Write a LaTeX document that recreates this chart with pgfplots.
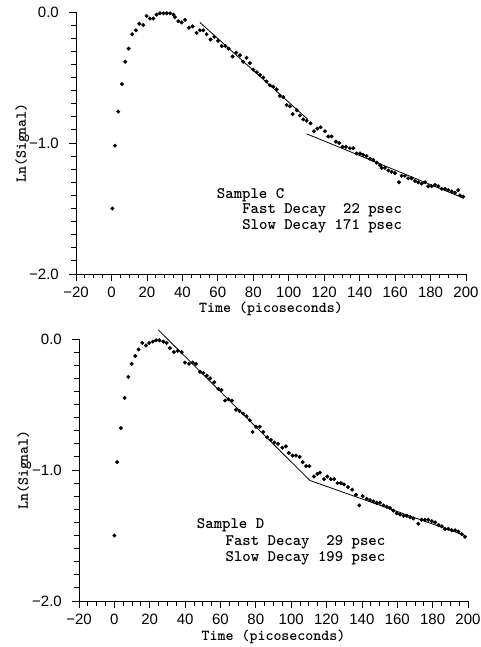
\documentclass[border=0pt]{standalone}
\usepackage{fontspec}
\usepackage{pgfplots}
\pgfplotsset{compat=1.18}
\newfontfamily\ticksf{Liberation Sans}

\pgfplotstableread{
x y
0.5 -1.50
2.0 -1.02
3.8 -0.76
5.9 -0.55
7.8 -0.38
9.7 -0.28
11.7 -0.17
13.8 -0.14
15.7 -0.09
17.9 -0.10
19.8 -0.03
21.7 -0.05
23.6 -0.05
25.5 -0.02
27.4 -0.01
29.3 -0.01
31.2 -0.01
33.1 -0.01
35.0 -0.02
35.8 -0.04
37.7 -0.07
39.6 -0.08
41.5 -0.06
43.7 -0.12
45.8 -0.11
48.0 -0.16
49.9 -0.14
51.8 -0.14
53.7 -0.17
55.9 -0.21
58.0 -0.19
60.1 -0.22
62.2 -0.26
64.3 -0.26
66.1 -0.28
68.3 -0.34
70.4 -0.31
72.5 -0.33
74.3 -0.38
76.2 -0.35
78.1 -0.39
80.0 -0.44
82.0 -0.46
83.8 -0.48
85.7 -0.50
87.5 -0.53
89.4 -0.56
91.3 -0.57
93.2 -0.59
95.0 -0.64
96.9 -0.65
98.8 -0.71
100.7 -0.72
102.2 -0.78
104.5 -0.75
106.3 -0.79
108.2 -0.82
110.1 -0.83
112.3 -0.85
114.2 -0.91
116.1 -0.89
118.0 -0.88
120.4 -0.91
122.3 -0.95
124.2 -0.95
126.6 -0.99
128.5 -1.00
130.4 -1.03
132.3 -1.03
134.5 -1.04
136.4 -1.04
138.3 -1.08
140.2 -1.08
142.0 -1.09
143.9 -1.10
145.8 -1.12
147.7 -1.13
149.6 -1.15
151.5 -1.17
152.4 -1.19
154.3 -1.19
156.2 -1.21
158.0 -1.22
159.9 -1.23
162.2 -1.30
163.7 -1.25
165.5 -1.25
167.4 -1.27
169.3 -1.27
171.2 -1.29
173.1 -1.30
175.0 -1.31
176.9 -1.30
178.7 -1.33
180.6 -1.33
182.5 -1.32
184.4 -1.33
186.3 -1.35
188.2 -1.35
190.0 -1.36
191.9 -1.37
193.8 -1.38
195.6 -1.36
196.6 -1.40
198.4 -1.41
}\dataC

\pgfplotstableread{
x y
0.0 -1.50
1.6 -0.94
3.7 -0.68
5.8 -0.45
7.9 -0.29
9.8 -0.19
11.8 -0.13
13.7 -0.08
15.8 -0.03
17.9 -0.05
19.7 -0.03
21.7 -0.02
23.6 -0.01
25.5 -0.01
27.7 -0.02
29.6 -0.03
31.4 -0.07
33.7 -0.10
35.8 -0.09
38.1 -0.10
39.9 -0.18
42.2 -0.19
44.3 -0.18
46.1 -0.19
48.4 -0.25
50.3 -0.26
52.3 -0.28
54.2 -0.30
56.5 -0.33
58.8 -0.38
60.6 -0.39
62.6 -0.47
64.5 -0.46
66.5 -0.47
68.8 -0.54
70.8 -0.55
72.9 -0.57
74.8 -0.59
76.6 -0.62
78.2 -0.71
80.1 -0.67
82.2 -0.67
84.2 -0.71
86.5 -0.75
88.5 -0.77
90.5 -0.79
92.6 -0.80
95.0 -0.83
97.0 -0.82
98.6 -0.87
100.8 -0.89
102.7 -0.89
104.8 -0.90
106.5 -0.94
108.4 -0.97
110.3 -0.97
112.9 -1.05
114.8 -1.03
116.3 -1.02
118.6 -1.07
120.4 -1.05
122.4 -1.07
124.3 -1.07
126.2 -1.10
128.1 -1.10
129.9 -1.11
132.1 -1.13
134.5 -1.15
136.6 -1.19
138.5 -1.27
140.4 -1.20
142.7 -1.22
144.6 -1.23
146.5 -1.24
148.4 -1.25
150.2 -1.25
152.1 -1.27
154.0 -1.28
155.9 -1.29
157.8 -1.31
159.7 -1.33
161.6 -1.34
163.5 -1.35
165.4 -1.35
167.3 -1.36
169.1 -1.37
171.9 -1.41
173.7 -1.38
175.6 -1.38
177.5 -1.38
179.5 -1.39
181.4 -1.40
183.3 -1.42
185.2 -1.43
187.0 -1.45
188.9 -1.45
190.8 -1.46
192.7 -1.46
194.6 -1.47
196.5 -1.49
198.3 -1.51
}\dataD

\newcommand\annfont{\ttfamily\bfseries\fontsize{16bp}{16bp}\selectfont}

\pgfplotsset{
  decay/.style={
    scale only axis, height=262bp,
    xmin=-20, xmax=200, ymin=-2, ymax=0,
    axis lines=left, axis line style={-, line width=0.9bp},
    enlargelimits=false, clip=false,
    xtick={-20,0,20,40,60,80,100,120,140,160,180,200},
    xticklabels={−20,0,20,40,60,80,100,120,140,160,180,200},
    minor x tick num=3,
    ytick={-2,-1,0}, yticklabels={−2.0,−1.0,0.0},
    minor y tick num=9,
    tick align=outside, major tick length=7bp, minor tick length=4.5bp,
    every tick/.style={black, line width=0.8bp},
    every minor tick/.style={black, line width=0.8bp},
    every tick label/.append style={font=\ticksf\fontsize{15bp}{15bp}\selectfont, inner sep=0pt},
    xticklabel style={anchor=base, yshift=-16.5bp},
    yticklabel style={anchor=east, xshift=-10bp},
    label style={font=\ttfamily\bfseries\fontsize{15.2bp}{15bp}\selectfont, inner sep=0pt},
    xlabel={Time (picoseconds)},
    ylabel={Ln(Signal)},
    every axis plot/.append style={black},
  },
  dots/.style={only marks, mark=*, mark size=1.8bp, mark options={fill=black, draw=black}},
  fit/.style={no marks, line width=0.8bp},
}

\begin{document}
\begin{tikzpicture}
\useasboundingbox (0,0) rectangle (481bp,647bp);
% top: Sample C
\begin{axis}[decay, width=390bp, at={(76bp,373bp)}, anchor=south west,
  xlabel style={at={([yshift=-38.5bp]axis description cs:0.5,0)}, anchor=base},
  ylabel style={at={([xshift=-50bp]axis description cs:0,0.5)}, anchor=base, rotate=0}]
\addplot[dots] table[x=x,y=y] {\dataC};
\addplot[fit] coordinates {(49.9,-0.08) (110.8,-0.82)};
\addplot[fit] coordinates {(110.1,-0.93) (198.4,-1.42)};
\node[anchor=base west, inner sep=0pt, font=\annfont] at (axis cs:59.4,-1.420) {Sample C};
\node[anchor=base west, inner sep=0pt, font=\annfont] at (axis cs:73.7,-1.542) {Fast Decay\ \ 22 psec};
\node[anchor=base west, inner sep=0pt, font=\annfont] at (axis cs:73.7,-1.664) {Slow Decay 171 psec};
\end{axis}
% bottom: Sample D
\begin{axis}[decay, width=389bp, at={(79bp,46bp)}, anchor=south west,
  xlabel style={at={([yshift=-39bp]axis description cs:0.5,0)}, anchor=base},
  ylabel style={at={([xshift=-51bp]axis description cs:0,0.5)}, anchor=base, rotate=0}]
\addplot[dots] table[x=x,y=y] {\dataD};
\addplot[fit] coordinates {(24.8,0.07) (110.6,-1.08) (198.3,-1.50)};
\node[anchor=base west, inner sep=0pt, font=\annfont] at (axis cs:46.6,-1.450) {Sample D};
\node[anchor=base west, inner sep=0pt, font=\annfont] at (axis cs:62.8,-1.573) {Fast Decay\ \ 29 psec};
\node[anchor=base west, inner sep=0pt, font=\annfont] at (axis cs:62.8,-1.695) {Slow Decay 199 psec};
\end{axis}
\end{tikzpicture}
\end{document}
